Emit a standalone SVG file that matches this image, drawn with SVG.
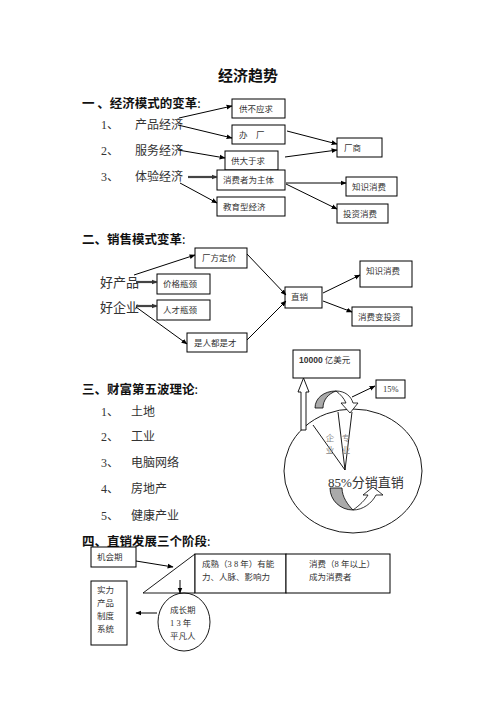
<svg xmlns="http://www.w3.org/2000/svg" width="496" height="702" viewBox="0 0 496 702">
<defs>
<marker id="ah" viewBox="0 0 10 10" refX="9" refY="5" markerWidth="6" markerHeight="6" orient="auto" markerUnits="userSpaceOnUse"><path d="M0,1 L10,5 L0,9 Z" fill="#000"/></marker>
<marker id="ahg" viewBox="0 0 10 10" refX="9" refY="5" markerWidth="6" markerHeight="6" orient="auto" markerUnits="userSpaceOnUse"><path d="M0,1 L10,5 L0,9 Z" fill="#333"/></marker>
</defs>
<style>
text{font-family:"Liberation Serif","Noto Sans CJK SC",serif;fill:#111;dominant-baseline:central}
.t{font-size:15px;font-weight:bold;font-family:"Noto Sans CJK SC",sans-serif}
.h{font-size:12.5px;font-weight:bold;font-family:"Noto Sans CJK SC",sans-serif}
.i{font-size:12px;fill:#333}
.b{font-size:8.5px;fill:#333}
.m{font-size:13px;fill:#333}
.box{fill:#fff;stroke:#000;stroke-width:1}
.c line,.c polyline{stroke:#000;stroke-width:1;fill:none;marker-end:url(#ah)}
.c .g{stroke:#444;stroke-width:2.2;marker-end:url(#ahg)}
.s{fill:none;stroke:#000;stroke-width:0.9}
.gt{font-size:8.5px;fill:#888}
</style>
<rect width="496" height="702" fill="#fff"/>
<text class="t" x="248" y="74" text-anchor="middle">经济趋势</text>

<!-- Section 1 -->
<text class="h" x="82" y="102">一 、经济模式的变革<tspan font-weight="normal">:</tspan></text>
<text class="i" x="101" y="125">1、</text><text class="i" x="135" y="125">产品经济</text>
<text class="i" x="101" y="151">2、</text><text class="i" x="135" y="151">服务经济</text>
<text class="i" x="101" y="177">3、</text><text class="i" x="135" y="177">体验经济</text>

<g id="n1"><rect class="box" x="232" y="99" width="53" height="19"/><text class="b" x="239" y="109">供不应求</text></g>
<g id="n2"><rect class="box" x="232" y="125" width="53" height="19"/><text class="b" x="239" y="135">办　厂</text></g>
<g id="n3"><rect class="box" x="337" y="138" width="45" height="19"/><text class="b" x="344" y="148">厂商</text></g>
<g id="n4"><rect class="box" x="225" y="151" width="53" height="19"/><text class="b" x="231" y="161">供大于求</text></g>
<g id="n5"><rect class="box" x="217" y="170" width="68" height="20"/><text class="b" x="223" y="180">消费者为主体</text></g>
<g id="n6"><rect class="box" x="217" y="197" width="68" height="19"/><text class="b" x="223" y="207">教育型经济</text></g>
<g id="n7"><rect class="box" x="346" y="177" width="51" height="19"/><text class="b" x="352" y="187">知识消费</text></g>
<g id="n8"><rect class="box" x="337" y="204" width="51" height="19"/><text class="b" x="343" y="214">投资消费</text></g>

<!-- Section 2 -->
<text class="h" x="82" y="238">二、销售模式变革<tspan font-weight="normal">:</tspan></text>
<text class="m" x="100" y="282">好产品</text>
<text class="m" x="100" y="307">好企业</text>
<g id="n9"><rect class="box" x="195" y="248" width="52" height="20"/><text class="b" x="202" y="258">厂方定价</text></g>
<g id="n10"><rect class="box" x="157" y="274" width="53" height="20"/><text class="b" x="163" y="284">价格瓶颈</text></g>
<g id="n11"><rect class="box" x="157" y="300" width="53" height="20"/><text class="b" x="163" y="310">人才瓶颈</text></g>
<g id="n12"><rect class="box" x="187" y="333" width="60" height="19"/><text class="b" x="194" y="343">是人都是才</text></g>
<g id="n13"><rect class="box" x="285" y="287" width="37" height="21"/><text class="b" x="291" y="297">直销</text></g>
<g id="n14"><rect class="box" x="360" y="261" width="52" height="26"/><text class="b" x="366" y="271">知识消费</text></g>
<g id="n15"><rect class="box" x="352" y="307" width="60" height="19"/><text class="b" x="358" y="317">消费变投资</text></g>

<!-- Section 3 -->
<text class="h" x="82" y="388">三、财富第五波理论<tspan font-weight="normal">:</tspan></text>
<text class="i" x="101" y="412">1、</text><text class="i" x="131" y="412">土地</text>
<text class="i" x="101" y="437">2、</text><text class="i" x="131" y="437">工业</text>
<text class="i" x="101" y="463">3、</text><text class="i" x="131" y="463">电脑网络</text>
<text class="i" x="101" y="489">4、</text><text class="i" x="131" y="489">房地产</text>
<text class="i" x="101" y="516">5、</text><text class="i" x="131" y="516">健康产业</text>

<g id="n16"><rect class="box" x="293" y="350" width="67" height="28"/><text class="b" x="299" y="360"><tspan font-family="Liberation Sans" font-weight="bold">10000</tspan> 亿美元</text></g>
<g id="n17"><rect class="box" x="376" y="380" width="29" height="18"/><text class="b" x="383" y="389">15%</text></g>
<g id="n18">
<ellipse class="s" cx="353" cy="471" rx="69" ry="62"/>
<polyline class="s" points="313,425 345,470 338,412"/>
<line class="s" x1="352" y1="412" x2="345" y2="470"/>
<text class="gt" x="330" y="438" text-anchor="middle">企</text>
<text class="gt" x="330" y="450" text-anchor="middle">业</text>
<text class="gt" x="346" y="438" text-anchor="middle">专</text>
<text class="gt" x="346" y="450" text-anchor="middle">业</text>
<text x="328" y="482" font-size="13" style="fill:#333">85%分销直销</text>
<polygon points="301,430 306,430 306,392 309,392 303.5,378 298,392 301,392" fill="#fff" stroke="#000" stroke-width="0.9"/>
<path d="M315,408 L323,408 C323,400 328,394 336,391 C324,391 315,398 315,408 Z" fill="#aaa" stroke="#000" stroke-width="0.8"/>
<path d="M336,391 C345,391 351,396 353,403 L358,403 L350,413 L341,403 L346,403 C344,398 340,394 336,391 Z" fill="#fff" stroke="#000" stroke-width="0.8"/>
<path d="M330,488 L342,488 C342,497 348,505 353,510 C340,510 330,500 330,488 Z" fill="#aaa" stroke="#000" stroke-width="0.8"/>
<path d="M353,510 C360,505 365,500 368,495 L363,495 L373,487 L383,495 L376,495 C372,503 363,510 353,510 Z" fill="#fff" stroke="#000" stroke-width="0.8"/>
</g>

<!-- Section 4 -->
<text class="h" x="82" y="540">四、直销发展三个阶段<tspan font-weight="normal">:</tspan></text>
<g id="n19"><rect class="box" x="91" y="547" width="45" height="20"/><text class="b" x="97" y="557">机会期</text></g>
<g id="n20"><rect class="box" x="91" y="581" width="36" height="64"/>
<text class="b" x="97" y="590">实力</text><text class="b" x="97" y="603">产品</text><text class="b" x="97" y="616">制度</text><text class="b" x="97" y="629">系统</text></g>
<g id="n21"><polygon class="s" points="143,593 195,554 195,593"/></g>
<g id="n22"><rect class="box" x="195" y="554" width="91" height="39"/>
<text class="b" x="202" y="564">成熟（3 8 年）有能</text><text class="b" x="202" y="577">力、人脉、影响力</text></g>
<g id="n23"><rect class="box" x="286" y="554" width="104" height="39"/>
<text class="b" x="309" y="564">消费（8 年以上）</text><text class="b" x="309" y="577">成为消费者</text></g>
<g id="n24"><ellipse class="s" cx="184" cy="622" rx="26" ry="29"/>
<text class="b" x="170" y="610">成长期</text><text class="b" x="170" y="623">1 3 年</text><text class="b" x="170" y="636">平凡人</text></g>

<g id="connectors" class="c">
<line x1="179" y1="118" x2="232" y2="106"/>
<line x1="178" y1="125" x2="232" y2="138"/>
<line x1="287" y1="131" x2="337" y2="144"/>
<line x1="178" y1="150" x2="225" y2="158"/>
<line x1="285" y1="157" x2="337" y2="150"/>
<line class="g" x1="188" y1="177" x2="217" y2="177"/>
<line x1="180" y1="183" x2="217" y2="203"/>
<line x1="286" y1="183" x2="346" y2="183"/>
<line x1="286" y1="184" x2="337" y2="209"/>
<line x1="134" y1="275" x2="195" y2="255"/>
<line class="g" x1="136" y1="282" x2="157" y2="282"/>
<line class="g" x1="136" y1="306" x2="157" y2="306"/>
<line x1="136" y1="307" x2="187" y2="344"/>
<line x1="247" y1="254" x2="286" y2="295"/>
<line x1="247" y1="340" x2="286" y2="301"/>
<line x1="323" y1="293" x2="360" y2="275"/>
<line x1="323" y1="301" x2="352" y2="312"/>
<line x1="352" y1="397" x2="375" y2="386"/>
<line x1="136" y1="561" x2="173" y2="567"/>
<line x1="180" y1="580" x2="180" y2="593"/>
<line x1="157" y1="613" x2="136" y2="613"/>
</g>
</svg>
